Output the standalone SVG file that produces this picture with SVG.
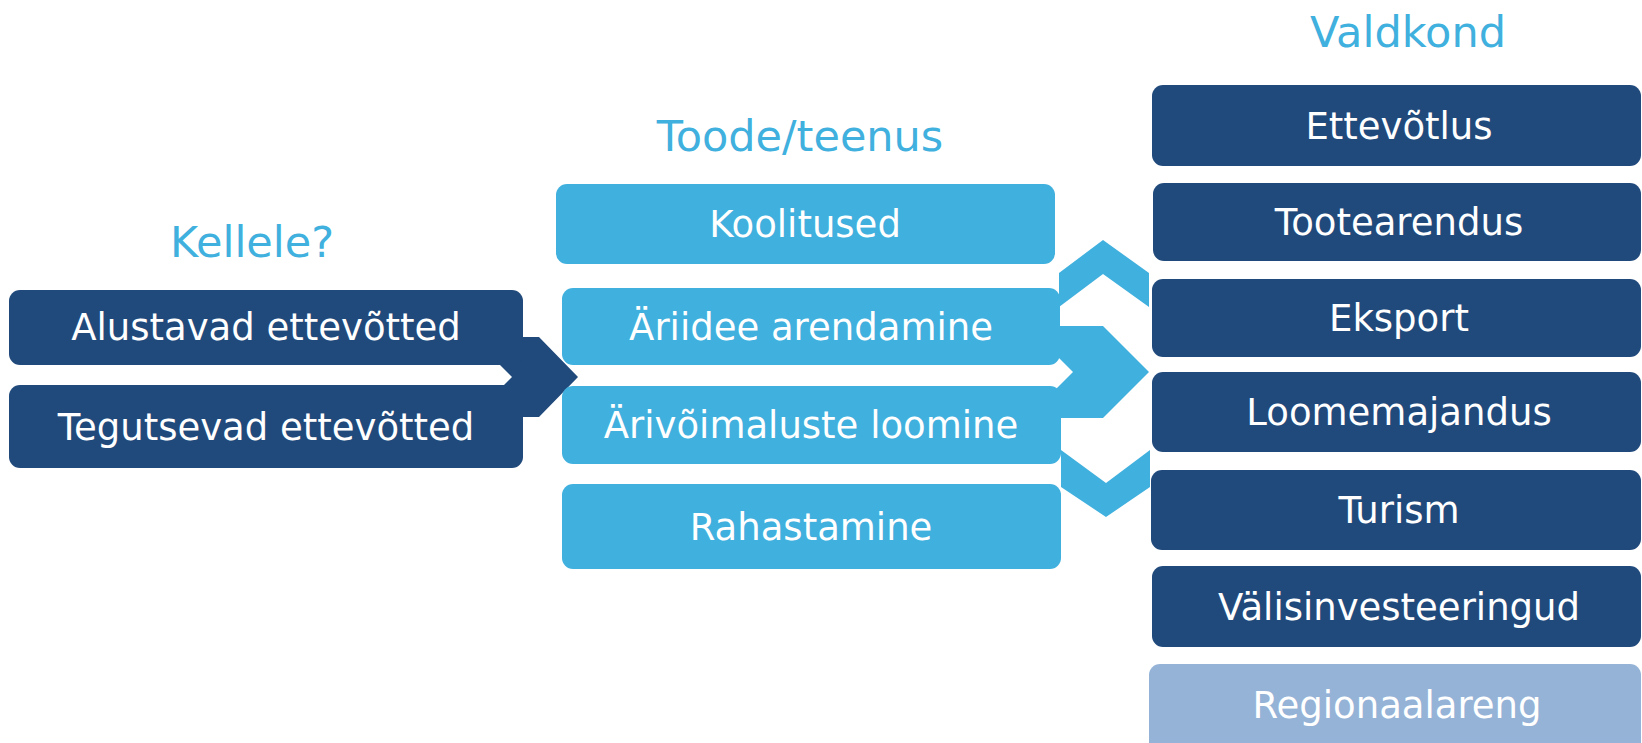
<svg xmlns="http://www.w3.org/2000/svg" width="1642" height="743" viewBox="0 0 1642 743">
<style>
.dark{fill:#214A7C}
.light{fill:#40B0DE}
.pale{fill:#95B3D7}
.t{font-family:"DejaVu Sans","Verdana",sans-serif;font-size:37px;fill:#FFFFFF;text-anchor:middle}
.h{font-family:"DejaVu Sans","Verdana",sans-serif;font-size:43px;fill:#40B0DE;text-anchor:middle}
</style>
<rect width="1642" height="743" fill="#FFFFFF"/>
<text class="h" x="252" y="257">Kellele?</text>
<text class="h" x="800" y="151">Toode/teenus</text>
<text class="h" x="1408" y="47">Valdkond</text>
<g id="connectors">
<polygon class="dark" points="472,337 539,337 578,377 539,417 472,417 512,377"/>
<polygon class="light" points="1059,273 1103,240 1149,273 1149,307 1103,274 1059,307"/>
<polygon class="light" points="1027,326 1103,326 1149,372 1103,418 1027,418 1073,372"/>
<polygon class="light" points="1061,450 1106,483 1150,450 1150,487 1106,517 1061,487"/>
</g>
<g id="n-alustavad"><rect class="dark" x="9" y="290" width="514" height="75" rx="11"/><text class="t" x="266" y="340">Alustavad ettevõtted</text></g>
<g id="n-tegutsevad"><rect class="dark" x="9" y="385" width="514" height="83" rx="11"/><text class="t" x="266" y="440">Tegutsevad ettevõtted</text></g>
<g id="n-koolitused"><rect class="light" x="556" y="184" width="499" height="80" rx="11"/><text class="t" x="805" y="237">Koolitused</text></g>
<g id="n-ariidee"><rect class="light" x="562" y="288" width="498" height="77" rx="11"/><text class="t" x="811" y="340">Äriidee arendamine</text></g>
<g id="n-arivoimaluste"><rect class="light" x="562" y="386" width="499" height="78" rx="11"/><text class="t" x="811" y="438">Ärivõimaluste loomine</text></g>
<g id="n-rahastamine"><rect class="light" x="562" y="484" width="499" height="85" rx="11"/><text class="t" x="811" y="540">Rahastamine</text></g>
<g id="n-ettevotlus"><rect class="dark" x="1152" y="85" width="489" height="81" rx="11"/><text class="t" x="1399" y="139">Ettevõtlus</text></g>
<g id="n-tootearendus"><rect class="dark" x="1153" y="183" width="488" height="78" rx="11"/><text class="t" x="1399" y="235">Tootearendus</text></g>
<g id="n-eksport"><rect class="dark" x="1152" y="279" width="489" height="78" rx="11"/><text class="t" x="1399" y="331">Eksport</text></g>
<g id="n-loomemajandus"><rect class="dark" x="1152" y="372" width="489" height="80" rx="11"/><text class="t" x="1399" y="425">Loomemajandus</text></g>
<g id="n-turism"><rect class="dark" x="1151" y="470" width="490" height="80" rx="11"/><text class="t" x="1399" y="523">Turism</text></g>
<g id="n-valisinvesteeringud"><rect class="dark" x="1152" y="566" width="489" height="81" rx="11"/><text class="t" x="1399" y="620">Välisinvesteeringud</text></g>
<g id="n-regionaalareng"><rect class="pale" x="1149" y="664" width="492" height="90" rx="11"/><text class="t" x="1397" y="718">Regionaalareng</text></g>
</svg>
